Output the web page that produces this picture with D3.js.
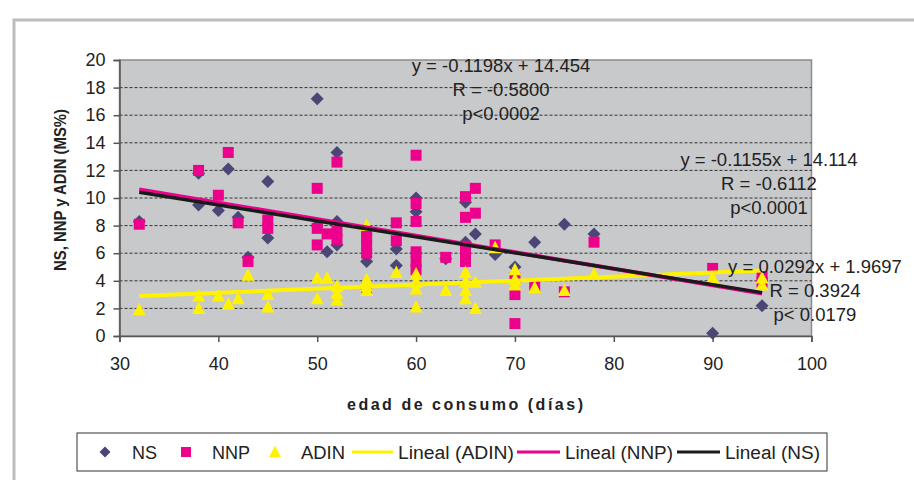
<!DOCTYPE html>
<html>
<head>
<meta charset="utf-8">
<script src="https://cdn.jsdelivr.net/npm/d3@7"></script>
<style>
  body { margin: 0; background: #fff; }
  svg text { font-family: "Liberation Sans", Arial, sans-serif; fill: #222; }
</style>
</head>
<body>
<div id="chart"></div>
<script>
// chart size
const width = 914;
const height = 480;
const margin = {left: 119.5, right: 102.5, top: 60, bottom: 144};

// data: [edad, valor]
const nsPoints = [
  [32, 8.3], [38, 11.8], [38, 9.5], [40, 9.1], [41, 12.1], [42, 8.6], [43, 5.7],
  [45, 11.2], [45, 7.1], [50, 17.2], [50, 8.0], [51, 6.1], [52, 13.3], [52, 8.3],
  [52, 6.6], [55, 5.4], [58, 6.3], [58, 5.1], [60, 10.0], [60, 9.0], [60, 6.0],
  [63, 5.6], [65, 9.7], [65, 6.8], [66, 7.4], [68, 5.9], [70, 5.0], [72, 6.8],
  [75, 8.1], [78, 7.4], [90, 0.2], [95, 2.2]
];
const nnpPoints = [
  [32, 8.1], [38, 12.0], [40, 10.2], [41, 13.3], [42, 8.2], [43, 5.4], [45, 8.4],
  [45, 7.8], [50, 10.7], [50, 7.8], [50, 6.6], [51, 7.4], [52, 12.6], [52, 7.6],
  [52, 7.0], [55, 7.6], [55, 7.1], [55, 6.6], [55, 6.0], [55, 3.5], [58, 8.2],
  [58, 6.9], [60, 13.1], [60, 9.6], [60, 8.3], [60, 6.1], [60, 5.4], [60, 4.8],
  [63, 5.7], [65, 10.1], [65, 8.6], [65, 6.5], [65, 5.9], [65, 5.4], [66, 10.7],
  [66, 8.9], [68, 6.6], [70, 4.2], [70, 3.0], [70, 0.9], [72, 3.6], [75, 3.2],
  [78, 6.8], [90, 4.9], [95, 3.9], [95, 4.3]
];
const adinPoints = [
  [32, 1.9], [38, 2.9], [38, 2.0], [40, 2.9], [41, 2.3], [42, 2.7], [43, 4.4],
  [45, 3.0], [45, 2.1], [50, 4.2], [50, 2.7], [51, 4.2], [52, 3.6], [52, 3.1],
  [52, 2.6], [55, 8.0], [55, 4.1], [55, 3.6], [55, 3.3], [58, 4.6], [60, 4.5],
  [60, 3.9], [60, 3.4], [60, 2.1], [63, 3.3], [65, 4.6], [65, 3.9], [65, 3.3],
  [65, 2.7], [66, 3.9], [66, 2.0], [68, 6.4], [70, 4.8], [70, 4.1], [70, 3.7],
  [72, 3.5], [75, 3.3], [78, 4.5], [90, 4.2], [95, 4.2], [95, 3.7]
];

// trend lines: [pendiente, intercepto]
const nsTrend = [-0.1155, 14.114];
const nnpTrend = [-0.1198, 14.454];
const adinTrend = [0.0292, 1.9697];
const trendRange = [32, 95];

// axis ticks
const xTicks = [30, 40, 50, 60, 70, 80, 90, 100];
const yTicks = [0, 2, 4, 6, 8, 10, 12, 14, 16, 18, 20];

// regression labels
const nnpLabel = ["y = -0.1198x + 14.454", "R = -0.5800", "p<0.0002"];
const nsLabel = ["y = -0.1155x + 14.114", "R = -0.6112", "p<0.0001"];
const adinLabel = ["y = 0.0292x + 1.9697", "R = 0.3924", "p< 0.0179"];

const legendNames = ["NS", "NNP", "ADIN", "Lineal (ADIN)", "Lineal (NNP)", "Lineal (NS)"];

const colNS = "#4a4777";
const colNNP = "#ec008c";
const colADIN = "#fff200";

const svg = d3.select("#chart")
  .append("svg")
  .attr("width", width)
  .attr("height", height);

// outer frame
svg.append("rect")
  .attr("x", 14).attr("y", 20)
  .attr("width", 940).attr("height", 500)
  .attr("fill", "none")
  .attr("stroke", "#bdbdbd")
  .attr("stroke-width", 3);

const xScale = d3.scaleLinear()
  .domain([30, 100])
  .range([margin.left, width - margin.right]);

const yScale = d3.scaleLinear()
  .domain([0, 20])
  .range([height - margin.bottom, margin.top]);

// plot area
svg.append("rect")
  .attr("x", xScale(30)).attr("y", yScale(20))
  .attr("width", xScale(100) - xScale(30))
  .attr("height", yScale(0) - yScale(20))
  .attr("fill", "#c8c9cb")
  .attr("stroke", "#8c8c8c")
  .attr("stroke-width", 1.5);

// dashed gridlines
svg.append("g")
  .selectAll("line")
  .data(yTicks.filter(d => d > 0 && d < 20))
  .enter()
  .append("line")
    .attr("x1", xScale(30)).attr("x2", xScale(100))
    .attr("y1", d => yScale(d)).attr("y2", d => yScale(d))
    .attr("stroke", "#333")
    .attr("stroke-width", 1)
    .attr("stroke-dasharray", "3,2");

// axes
const yAxis = svg.append("g")
  .attr("transform", `translate(${xScale(30)},0)`)
  .call(d3.axisLeft(yScale).tickValues(yTicks).tickSize(6).tickPadding(8));
const xAxis = svg.append("g")
  .attr("transform", `translate(0,${yScale(0)})`)
  .call(d3.axisBottom(xScale).tickValues(xTicks).tickSize(6).tickPadding(15));

[xAxis, yAxis].forEach(a => {
  a.selectAll("path, line").attr("stroke", "#555").attr("stroke-width", 1.5);
  a.selectAll("text").attr("font-size", "18px").attr("fill", "#222")
    .attr("font-family", "Liberation Sans, Arial, sans-serif");
});

// axis titles
svg.append("text")
  .attr("transform", `translate(66,${(yScale(0) + yScale(20)) / 2 - 8}) rotate(-90)`)
  .attr("text-anchor", "middle")
  .attr("font-size", "16px")
  .attr("font-weight", "bold")
  .attr("textLength", 162)
  .attr("lengthAdjust", "spacingAndGlyphs")
  .text("NS, NNP y ADIN (MS%)");

svg.append("text")
  .attr("x", 465).attr("y", 410)
  .attr("text-anchor", "middle")
  .attr("font-size", "16px")
  .attr("font-weight", "bold")
  .attr("textLength", 236)
  .attr("lengthAdjust", "spacing")
  .text("edad de consumo (días)");

// marker shapes
const diamond = "M0,-6.5L6.5,0L0,6.5L-6.5,0Z";
const square = "M-5.5,-5.5H5.5V5.5H-5.5Z";
const triangle = "M0,-7L6.5,5.5H-6.5Z";

function drawPoints(points, shape, color) {
  svg.append("g")
    .selectAll("path")
    .data(points)
    .enter()
    .append("path")
      .attr("d", shape)
      .attr("fill", color)
      .attr("transform", d => `translate(${xScale(d[0])},${yScale(d[1])})`);
}

drawPoints(nsPoints, diamond, colNS);
drawPoints(nnpPoints, square, colNNP);
drawPoints(adinPoints, triangle, colADIN);

// trend lines
const line = d3.line()
  .x(d => xScale(d[0]))
  .y(d => yScale(d[1]));

function drawTrend(coef, color, w) {
  const pts = trendRange.map(x => [x, coef[0] * x + coef[1]]);
  svg.append("path")
    .datum(pts)
    .attr("d", line)
    .attr("fill", "none")
    .attr("stroke", color)
    .attr("stroke-width", w);
}

drawTrend(adinTrend, colADIN, 4);
drawTrend(nnpTrend, colNNP, 4);
drawTrend(nsTrend, "#1a1a1a", 3.5);

// regression labels
function drawLabel(lines, cx, y0) {
  svg.append("g")
    .selectAll("text")
    .data(lines)
    .enter()
    .append("text")
      .attr("x", cx)
      .attr("y", (d, i) => y0 + i * 24)
      .attr("text-anchor", "middle")
      .attr("font-size", "18.5px")
      .attr("fill", "#222")
      .text(d => d);
}

drawLabel(nnpLabel, 501, 72);
drawLabel(nsLabel, 769, 166);
drawLabel(adinLabel, 815, 273);

// legend
const legend = svg.append("g");
legend.append("rect")
  .attr("x", 77).attr("y", 433)
  .attr("width", 750).attr("height", 38)
  .attr("fill", "#fff")
  .attr("stroke", "#333")
  .attr("stroke-width", 1);

const legY = 452;
legend.append("path").attr("d", "M0,-5.5L5.5,0L0,5.5L-5.5,0Z").attr("fill", colNS)
  .attr("transform", `translate(105,${legY})`);
legend.append("path").attr("d", "M-5,-5H5V5H-5Z").attr("fill", colNNP)
  .attr("transform", `translate(186,${legY})`);
legend.append("path").attr("d", "M0,-6.5L6,5.5H-6Z").attr("fill", colADIN)
  .attr("transform", `translate(275,${legY})`);

const legLines = [
  {x1: 352, x2: 393, color: colADIN},
  {x1: 517, x2: 560, color: colNNP},
  {x1: 677, x2: 720, color: "#1a1a1a"}
];
legend.selectAll(".legline")
  .data(legLines)
  .enter()
  .append("line")
    .attr("x1", d => d.x1).attr("x2", d => d.x2)
    .attr("y1", legY).attr("y2", legY)
    .attr("stroke", d => d.color)
    .attr("stroke-width", 3);

const legTextX = [132, 212, 301, 398, 565, 725];
const legTextW = [25, 38, 44, 116, 108, 95];
legend.selectAll(".legtext")
  .data(legendNames)
  .enter()
  .append("text")
    .attr("x", (d, i) => legTextX[i])
    .attr("y", legY + 6.5)
    .attr("font-size", "18px")
    .attr("textLength", (d, i) => legTextW[i])
    .attr("lengthAdjust", "spacingAndGlyphs")
    .text(d => d);
</script>
</body>
</html>
